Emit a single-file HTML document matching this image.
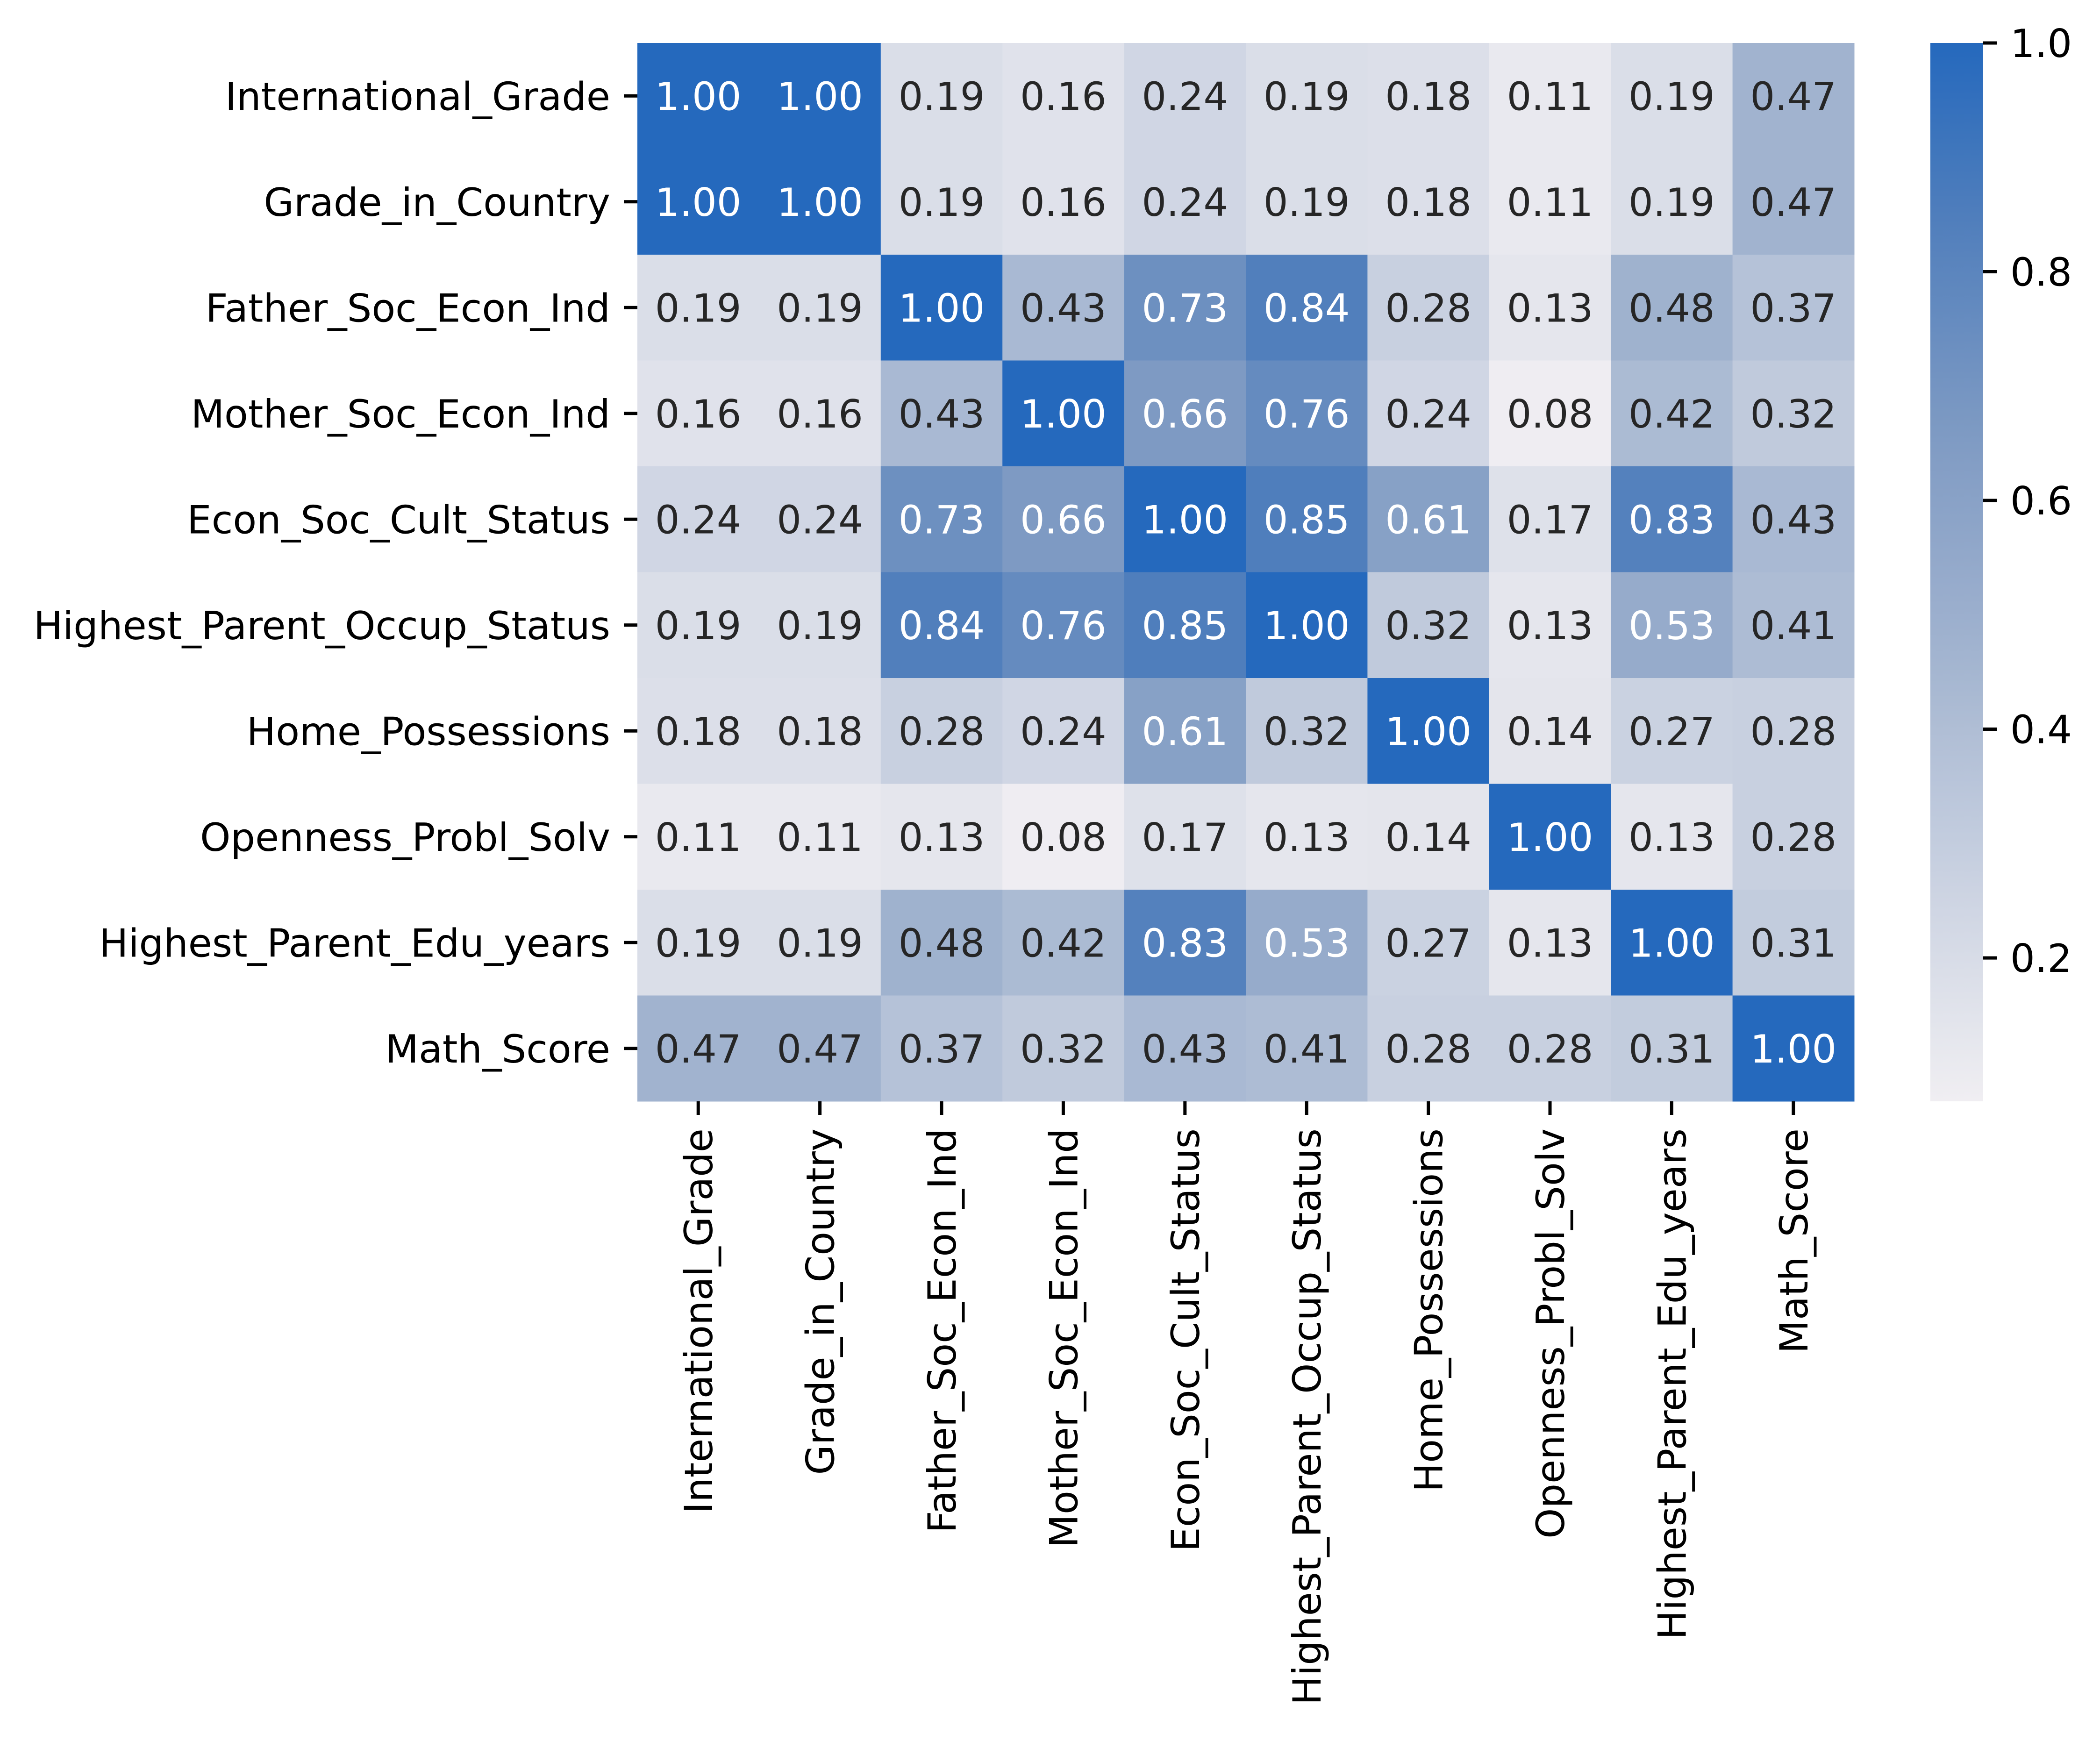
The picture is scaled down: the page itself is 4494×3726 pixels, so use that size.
<!DOCTYPE html>
<html><head><meta charset="utf-8"><style>
html,body{margin:0;padding:0;background:#fff;}
svg text{font-family:"DejaVu Sans","Liberation Sans",sans-serif;}
</style></head><body>
<svg id="chart" width="4494" height="3721" viewBox="0 0 4494 3721" xmlns="http://www.w3.org/2000/svg">
<defs>
<linearGradient id="cbgrad" x1="0" y1="1" x2="0" y2="0"></linearGradient>
</defs>
<rect width="4494" height="3721" fill="#fff"/>
<g id="cells"></g>
<g id="ylabels"></g>
<g id="xlabels"></g>
<g id="cbar"></g>
</svg>
<script>
const labels = ["International_Grade","Grade_in_Country","Father_Soc_Econ_Ind","Mother_Soc_Econ_Ind","Econ_Soc_Cult_Status","Highest_Parent_Occup_Status","Home_Possessions","Openness_Probl_Solv","Highest_Parent_Edu_years","Math_Score"];
const row0 = [1.00,1.00,0.19,0.16,0.24,0.19,0.18,0.11,0.19,0.47];
const row1 = [1.00,1.00,0.19,0.16,0.24,0.19,0.18,0.11,0.19,0.47];
const row2 = [0.19,0.19,1.00,0.43,0.73,0.84,0.28,0.13,0.48,0.37];
const row3 = [0.16,0.16,0.43,1.00,0.66,0.76,0.24,0.08,0.42,0.32];
const row4 = [0.24,0.24,0.73,0.66,1.00,0.85,0.61,0.17,0.83,0.43];
const row5 = [0.19,0.19,0.84,0.76,0.85,1.00,0.32,0.13,0.53,0.41];
const row6 = [0.18,0.18,0.28,0.24,0.61,0.32,1.00,0.14,0.27,0.28];
const row7 = [0.11,0.11,0.13,0.08,0.17,0.13,0.14,1.00,0.13,0.28];
const row8 = [0.19,0.19,0.48,0.42,0.83,0.53,0.27,0.13,1.00,0.31];
const row9 = [0.47,0.47,0.37,0.32,0.43,0.41,0.28,0.28,0.31,1.00];
const cbTicks = [0.2,0.4,0.6,0.8,1.0];
const vmin = 0.0746, vmax = 1.0;

const rows=[row0,row1,row2,row3,row4,row5,row6,row7,row8,row9];
const NS="http://www.w3.org/2000/svg";
const L=1364,R=3968,T=92,B=2357;
const n=labels.length, cw=(R-L)/n, ch=(B-T)/n;
const xs=i=>L+i*cw, ys=j=>T+j*ch;
const stops=[[0.0746,[240,238,242]],[0.19,[218,222,232]],[0.47,[161,179,207]],[0.66,[126,154,195]],[0.85,[79,126,188]],[1.0,[37,105,189]]];
function color(v){
  if(v<=stops[0][0]) return rgb(stops[0][1]);
  for(let k=1;k<stops.length;k++){
    if(v<=stops[k][0]){const a=stops[k-1],b=stops[k];const t=(v-a[0])/(b[0]-a[0]);
      return rgb(a[1].map((c,i)=>c+(b[1][i]-c)*t));}
  }
  return rgb(stops[stops.length-1][1]);
}
function rgb(c){return "rgb("+c.map(Math.round).join(",")+")";}
function mk(tag,attrs,parent){const e=document.createElementNS(NS,tag);for(const k in attrs)e.setAttribute(k,attrs[k]);parent.appendChild(e);return e;}
const gc=document.getElementById('cells');
rows.forEach((r,j)=>r.forEach((v,i)=>{
  const rc=mk('rect',{x:xs(i),y:ys(j),width:cw+0.5,height:ch+0.5,fill:color(v)},gc);
  
  
  const t=mk('text',{x:xs(i)+cw/2,y:ys(j)+ch/2+30,'text-anchor':'middle','font-size':83,fill:v>0.5?'#ffffff':'#262626'},gc);
  t.textContent=v.toFixed(2);
  
  
}));
const gy=document.getElementById('ylabels'), gx=document.getElementById('xlabels');
labels.forEach((lab,k)=>{
  const cy=ys(k)+ch/2;
  mk('line',{x1:L-29,x2:L,y1:cy,y2:cy,stroke:'#000','stroke-width':7},gy);
  const t=mk('text',{x:L-58,y:cy+30,'text-anchor':'end','font-size':83,fill:'#000'},gy);
  t.textContent=lab;
  
  
  const cx=xs(k)+cw/2;
  mk('line',{x1:cx,x2:cx,y1:B,y2:B+29,stroke:'#000','stroke-width':7},gx);
  const t2=mk('text',{x:0,y:0,'text-anchor':'end','font-size':83,fill:'#000',transform:'translate('+(cx+30)+','+(B+58)+') rotate(-90)'},gx);
  t2.textContent=lab;
  
  
});
// colorbar
const CL=4131,CR=4244;
const grad=document.getElementById('cbgrad');
for(let s=0;s<=20;s++){const v=vmin+(vmax-vmin)*s/20;mk('stop',{offset:(s/20),'stop-color':color(v)},grad);}
const gb=document.getElementById('cbar');
const cbRect=mk('rect',{x:CL,y:T,width:CR-CL,height:B-T,fill:'url(#cbgrad)'},gb);


const cy=v=>B-(v-vmin)/(vmax-vmin)*(B-T);
cbTicks.forEach(v=>{
  const y=cy(v);
  mk('line',{x1:CR,x2:CR+29,y1:y,y2:y,stroke:'#000','stroke-width':7},gb);
  const t=mk('text',{x:CR+58,y:y+30,'font-size':83,fill:'#000'},gb);
  t.textContent=v.toFixed(1);
  
  
});
</script>
</body></html>
